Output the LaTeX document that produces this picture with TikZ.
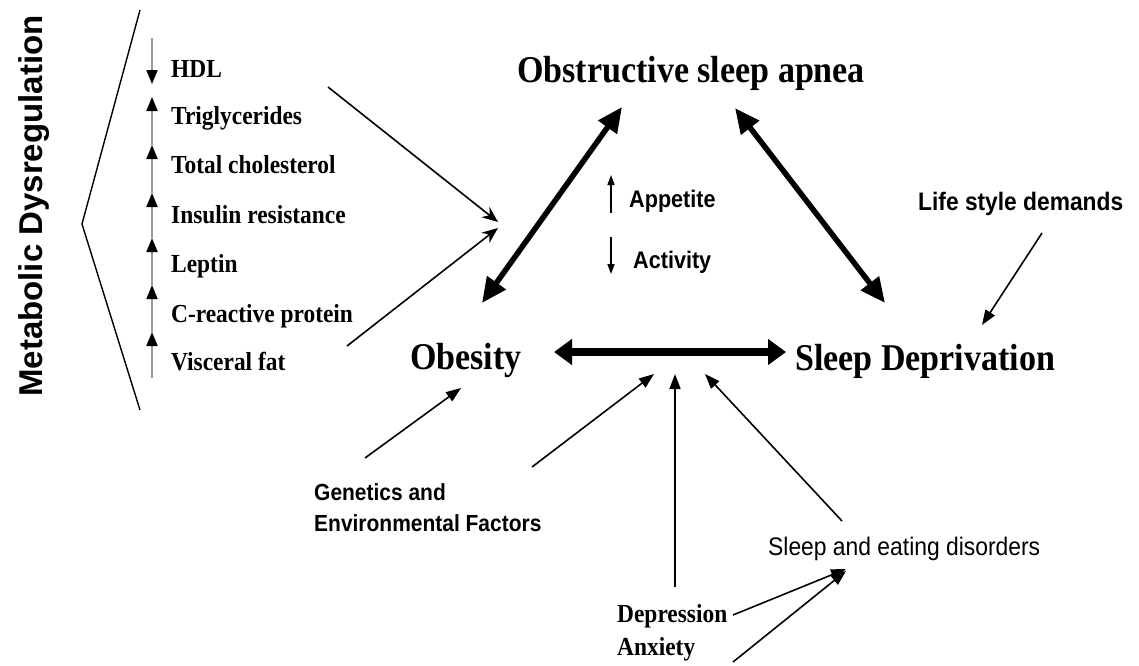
\documentclass[tikz,border=0pt]{standalone}
\usepackage{fontspec}
\setmainfont{Liberation Serif}[FakeStretch=0.9]
\newfontfamily\sansn{Liberation Sans}[FakeStretch=0.9]
\newfontfamily\sansr{Liberation Sans}
\usetikzlibrary{arrows.meta,calc}
\begin{document}
\begin{tikzpicture}[x=1pt,y=-1pt,
  bigtxt/.style={font=\fontsize{37.8}{40}\selectfont\bfseries, inner sep=0pt, anchor=base west},
  listtxt/.style={font=\fontsize{26}{28}\selectfont\bfseries, inner sep=0pt, anchor=base west},
  sansbold/.style={font=\sansn\bfseries\fontsize{24}{26}\selectfont, inner sep=0pt, anchor=base west},
  sansreg/.style={font=\sansn\fontsize{25.4}{27}\selectfont, inner sep=0pt, anchor=base west},
  thick arr/.style={line width=5.5pt, {Triangle[length=25pt,width=22pt]}-{Triangle[length=25pt,width=22pt]}},
  horiz arr/.style={line width=8pt, {Triangle[length=18pt,width=25pt]}-{Triangle[length=18pt,width=25pt]}},
  thin arr/.style={line width=1.6pt, -{Triangle[length=15pt,width=11pt]}},
  conv arr/.style={line width=1.6pt, -{Stealth[length=16pt,width=13pt]}},
  small arr/.style={line width=1.5pt, -{Triangle[length=10pt,width=7pt]}},
  list arr/.style={line width=1.8pt, draw=black!40, -{Triangle[length=14pt,width=11pt,color=black]}},
  bracket/.style={line width=1.4pt}
]
\useasboundingbox[fill=white] (0,0) rectangle (1139,665);

% ---- rotated title
\node[font=\sansr\bfseries\fontsize{33}{35}\selectfont, inner sep=0pt, anchor=base, rotate=90] (meta) at (42,206) {Metabolic Dysregulation};

% ---- bracket
\coordinate (b1) at (140,10);
\coordinate (b2) at (82,224);
\coordinate (b3) at (140,410);
\draw[bracket] (b1) -- (b2) -- (b3);

% ---- list
\node[listtxt] (hdl) at (171,77) {HDL};
\node[listtxt] (tri) at (171,124) {Triglycerides};
\node[listtxt] (tot) at (171,173) {Total cholesterol};
\node[listtxt] (ins) at (171,223) {Insulin resistance};
\node[listtxt] (lep) at (171,272) {Leptin};
\node[listtxt] (crp) at (171,322) {C-reactive protein};
\node[listtxt] (vis) at (171,370) {Visceral fat};

\coordinate (l0) at (152,38);
\coordinate (l1) at (152,84);
\coordinate (u1) at (152,97);
\coordinate (u2) at (152,145);
\coordinate (u3) at (152,193);
\coordinate (u4) at (152,238);
\coordinate (u5) at (152,285);
\coordinate (u6) at (152,332);
\coordinate (lb) at (152,378);
\draw[list arr] (l0) -- (l1);
\draw[list arr] (u2) -- (u1);
\draw[list arr] (u3) -- (u2);
\draw[list arr] (u4) -- (u3);
\draw[list arr] (u5) -- (u4);
\draw[list arr] (u6) -- (u5);
\draw[list arr] (lb) -- (u6);

% ---- converging arrows
\coordinate (m1) at (328,87);
\coordinate (m2) at (347,346);
\coordinate (cv1) at (498,222);
\coordinate (cv2) at (498,228);
\draw[conv arr] (m1) -- (cv1);
\draw[conv arr] (m2) -- (cv2);

% ---- main nodes
\node[bigtxt] (osa) at (517,82) {Obstructive sleep apnea};
\node[bigtxt] (obe) at (410,369) {Obesity};
\node[bigtxt] (sd) at (795,370) {Sleep Deprivation};

\coordinate (osaL) at (622,107);
\coordinate (obU) at (482,303);
\coordinate (osaR) at (735,108);
\coordinate (sdU) at (885,303);
\coordinate (obR) at (554,352);
\coordinate (sdL) at (786,352);
\draw[thick arr] (obU) -- (osaL);
\draw[thick arr] (osaR) -- (sdU);
\draw[horiz arr] (obR) -- (sdL);

% ---- appetite / activity
\node[sansbold] (app) at (629,207) {Appetite};
\node[sansbold] (act) at (633,268) {Activity};
\coordinate (ap0) at (611,213);
\coordinate (ap1) at (611,175);
\coordinate (ac0) at (611,237);
\coordinate (ac1) at (611,274);
\draw[small arr] (ap0) -- (ap1);
\draw[small arr] (ac0) -- (ac1);

% ---- life style
\node[sansbold, font=\sansn\bfseries\fontsize{25.3}{27}\selectfont] (life) at (918,210) {Life style demands};
\coordinate (lf0) at (1042,233);
\coordinate (lf1) at (982,325);
\draw[thin arr] (lf0) -- (lf1);

% ---- genetics
\node[sansbold, font=\sansn\bfseries\fontsize{23.3}{25}\selectfont] (gen1) at (314,500) {Genetics and};
\node[sansbold, font=\sansn\bfseries\fontsize{23.3}{25}\selectfont] (gen2) at (314,531) {Environmental Factors};
\coordinate (g0) at (365,458);
\coordinate (g1) at (461,388);
\coordinate (g2) at (532,467);
\coordinate (g3) at (654,374);
\draw[thin arr] (g0) -- (g1);
\draw[thin arr] (g2) -- (g3);

% ---- vertical arrow from depression
\coordinate (v0) at (675,587);
\coordinate (v1) at (675,374);
\draw[thin arr] (v0) -- (v1);

% ---- sleep and eating disorders
\node[sansreg] (sed) at (768,555) {Sleep and eating disorders};
\coordinate (s0) at (842,521);
\coordinate (s1) at (705,374);
\draw[thin arr] (s0) -- (s1);

% ---- depression / anxiety
\node[listtxt] (dep) at (617,622) {Depression};
\node[listtxt] (anx) at (617,655) {Anxiety};
\coordinate (d0) at (733,615);
\coordinate (d1) at (846,569);
\coordinate (a0) at (733,662);
\coordinate (a1) at (846,571);
\draw[thin arr] (d0) -- (d1);
\draw[thin arr] (a0) -- (a1);
\end{tikzpicture}
\end{document}
